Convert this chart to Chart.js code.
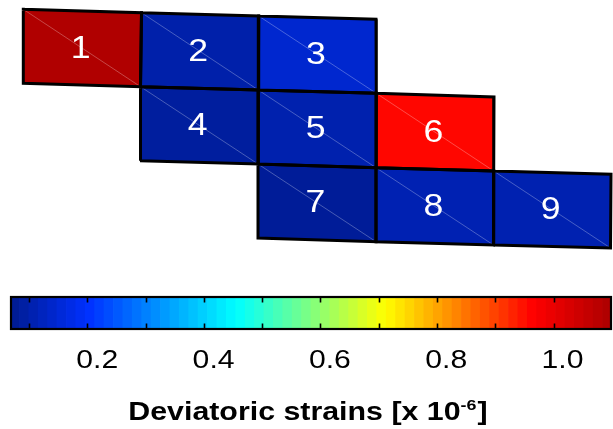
<!DOCTYPE html>
<html><head><meta charset="utf-8">
<script src="https://cdn.jsdelivr.net/npm/chart.js@4.4.1/dist/chart.umd.min.js"></script>
<style>
html,body{margin:0;padding:0;background:#fff;overflow:hidden}
#wrap{position:relative;width:613px;height:429px}
canvas{position:absolute;left:0}
#cells{top:0}
#cbar{top:260px}
</style></head><body>
<div id="wrap">
<canvas id="cells" width="613" height="260"></canvas>
<canvas id="cbar" width="613" height="169"></canvas>
</div>
<script>
// ---- data ----
const cellLabels = ['1','2','3','4','5','6','7','8','9'];
const cellValues = [1.085, 0.075, 0.120, 0.060, 0.080, 0.950, 0.052, 0.084, 0.082];
const cellCol = [0, 1, 2, 1, 2, 3, 2, 3, 4];
const cellRow = [0, 0, 0, 1, 1, 1, 2, 2, 2];
// mesh node coordinates (rows of nodes j = 0..3, columns i = 0..5)
const meshX = [
  [23.3, 141.5, 258.7, 376.0, null, null],
  [23.3, 140.5, 258.3, 376.3, 494.0, null],
  [null, 140.0, 258.0, 376.0, 493.7, 611.0],
  [null, null, 258.0, 376.0, 493.5, 610.5]
];
const meshY = [
  [9.3, 12.7, 16.0, 19.3, null, null],
  [83.3, 86.7, 90.0, 93.3, 97.0, null],
  [null, 160.7, 164.0, 167.7, 171.0, 174.3],
  [null, null, 238.0, 241.7, 245.0, 248.0]
];
const colorMin = 0.05, colorMax = 1.085;
const colorbarLevels = 64;
const colorbarTickLabels = [0.2, 0.4, 0.6, 0.8, 1.0];
const colorbarTickMarks = [0.083, 0.183, 0.283, 0.383, 0.483, 0.583, 0.684, 0.784, 0.883, 0.986];
const titleMain = 'Deviatoric strains [x 10';
const titleSup = '-6';
const titleEnd = ']';

// ---- colormap (jet-like) ----
const jetStops = [[0,[0,28,150]],[0.125,[0,48,255]],[0.375,[0,255,255]],[0.625,[255,255,0]],[0.875,[255,0,0]],[1,[176,0,0]]];
function cmap(t){
  t = Math.max(0, Math.min(1, t));
  for (let k = 1; k < jetStops.length; k++) {
    if (t <= jetStops[k][0]) {
      const [t0,c0] = jetStops[k-1], [t1,c1] = jetStops[k];
      const f = (t - t0) / (t1 - t0);
      return 'rgb(' + c0.map((c,i) => Math.round(c + (c1[i]-c)*f)).join(',') + ')';
    }
  }
  return 'rgb(176,0,0)';
}
const node = (i,j) => ({x: meshX[j][i], y: meshY[j][i]});
function corners(k){
  const i = cellCol[k], j = cellRow[k];
  return [node(i,j), node(i+1,j), node(i+1,j+1), node(i,j+1)];
}

// ---- cell chart ----
const cellDatasets = cellValues.map((v,k) => {
  const c = corners(k);
  return {data: [...c, c[0]], showLine: true, fill: 'shape',
    backgroundColor: cmap((v - colorMin)/(colorMax - colorMin)),
    borderColor: '#000', borderWidth: 3, pointRadius: 0,
    borderJoinStyle: 'miter', borderCapStyle: 'square', clip: false};
});
const diagDatasets = cellValues.map((v,k) => {
  const c = corners(k);
  return {data: [c[0], c[2]], showLine: true, fill: false,
    borderColor: 'rgba(255,255,255,0.4)', borderWidth: 0.7, pointRadius: 0};
});
const cellLabelPlugin = {
  id: 'cellLabelPlugin',
  afterDatasetsDraw(chart){
    const {ctx, scales:{x, y}} = chart;
    const fs = 31;
    ctx.save();
    ctx.fillStyle = '#fff';
    ctx.font = fs + 'px "Liberation Sans", Arial, sans-serif';
    ctx.textAlign = 'center';
    ctx.textBaseline = 'alphabetic';
    cellLabels.forEach((lab,k) => {
      const c = corners(k);
      const cx = c.reduce((s,p)=>s+p.x,0)/4, cy = c.reduce((s,p)=>s+p.y,0)/4;
      ctx.save();
      ctx.translate(x.getPixelForValue(cx) - 1.5, y.getPixelForValue(cy) + 0.716*fs/2 - 1.5);
      ctx.scale(1.15, 1);
      ctx.fillText(lab, 0, 0);
      ctx.restore();
    });
    ctx.restore();
  }
};
new Chart(document.getElementById('cells'), {
  type: 'scatter',
  data: {datasets: [...cellDatasets, ...diagDatasets]},
  options: {
    responsive: false, animation: false, events: [],
    layout: {padding: 0},
    plugins: {legend: {display: false}, tooltip: {enabled: false}, filler: {drawTime: 'beforeDatasetsDraw'}},
    scales: {
      x: {type: 'linear', min: 0, max: 613, display: false},
      y: {type: 'linear', min: 0, max: 260, reverse: true, display: false}
    }
  },
  plugins: [cellLabelPlugin]
});

// ---- colorbar chart ----
const step = (colorMax - colorMin) / colorbarLevels;
const barData = [], barColors = [];
for (let i = 0; i < colorbarLevels; i++) {
  barData.push({x: colorMin + (i + 0.5)*step, y: 1});
  barColors.push(cmap(i/(colorbarLevels - 1)));
}
const colorbarPlugin = {
  id: 'colorbarPlugin',
  afterDraw(chart){
    const {ctx, chartArea: a, scales: {x}} = chart;
    ctx.save();
    // inner tick marks (top and bottom)
    ctx.strokeStyle = '#000';
    ctx.lineWidth = 1.6;
    ctx.beginPath();
    colorbarTickMarks.forEach(v => {
      const px = Math.round(x.getPixelForValue(v)) + 0.5;
      ctx.moveTo(px, a.top); ctx.lineTo(px, a.top + 6.5);
      ctx.moveTo(px, a.bottom); ctx.lineTo(px, a.bottom - 6.5);
    });
    ctx.stroke();
    // frame
    ctx.lineWidth = 2.2;
    ctx.strokeRect(a.left + 1, a.top + 1, a.right - a.left - 2, a.bottom - a.top - 2);
    // tick labels
    ctx.fillStyle = '#000';
    ctx.textAlign = 'center';
    ctx.textBaseline = 'alphabetic';
    ctx.font = '26px "Liberation Sans", Arial, sans-serif';
    colorbarTickLabels.forEach(v => {
      ctx.save();
      ctx.translate(x.getPixelForValue(v), a.bottom + 38);
      ctx.scale(1.16, 1);
      ctx.fillText(v.toFixed(1), 0, 0);
      ctx.restore();
    });
    // axis title with superscript
    const mainFont = 'bold 25.5px "Liberation Sans", Arial, sans-serif';
    const supFont = 'bold 15px "Liberation Sans", Arial, sans-serif';
    ctx.font = mainFont; const w1 = ctx.measureText(titleMain).width; const w3 = ctx.measureText(titleEnd).width;
    ctx.font = supFont; const w2 = ctx.measureText(titleSup).width + 1;
    const sx = 1.19;
    const total = (w1 + w2 + w3) * sx;
    ctx.textAlign = 'left';
    ctx.translate(308 - total/2, a.bottom + 90);
    ctx.scale(sx, 1);
    ctx.font = mainFont; ctx.fillText(titleMain, 0, 0);
    ctx.font = supFont; ctx.fillText(titleSup, w1, -10.5);
    ctx.font = mainFont; ctx.fillText(titleEnd, w1 + w2, 0);
    ctx.restore();
  }
};
new Chart(document.getElementById('cbar'), {
  type: 'bar',
  data: {datasets: [{data: barData, backgroundColor: barColors, borderWidth: 0, barPercentage: 1.08, categoryPercentage: 1}]},
  options: {
    responsive: false, animation: false, events: [],
    layout: {padding: {top: 36, bottom: 99, left: 10, right: 1}},
    plugins: {legend: {display: false}, tooltip: {enabled: false}},
    scales: {
      x: {type: 'linear', min: colorMin, max: colorMax, offset: false, display: false},
      y: {type: 'linear', min: 0, max: 1, display: false}
    }
  },
  plugins: [colorbarPlugin]
});
</script>
</body></html>
